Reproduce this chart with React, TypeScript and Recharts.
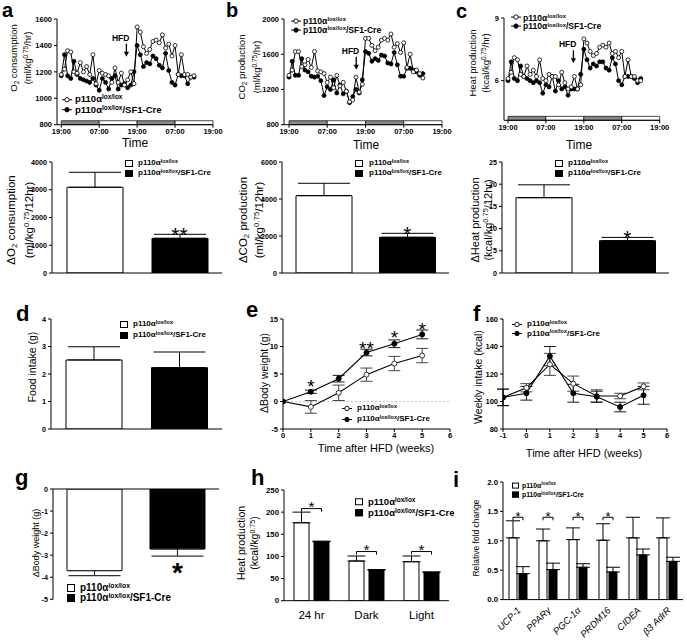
import React from "react";
import {
  Bar,
  BarChart,
  Cell,
  ErrorBar,
  LabelList,
  Line,
  LineChart,
  ReferenceArea,
  ReferenceDot,
  ReferenceLine,
  XAxis,
  YAxis,
} from "recharts";

const FONT = '"Liberation Sans", Arial, Helvetica, sans-serif';

// ---- a–c (top): hourly calorimetry, x = hours after 19:00 ----
const hours = [
  0, 1, 2, 3, 4, 5, 6, 7, 8, 9, 10, 11, 12, 13, 14, 15, 16, 17, 18, 19, 20, 21,
  22, 23, 24, 25, 26, 27, 28, 29, 30, 31, 32, 33, 34, 35, 36, 37, 38, 39, 40, 41, 42,
];
const clockTicks = [0, 12, 24, 36, 48];
const clockLabels = ["19:00", "07:00", "19:00", "07:00", "19:00"];
const lightDark = [
  { from: 0, to: 12, dark: true },
  { from: 12, to: 24, dark: false },
  { from: 24, to: 36, dark: true },
  { from: 36, to: 48, dark: false },
];

const o2Lox = [
  1180, 1220, 1360, 1350, 1200, 1190, 1270, 1200, 1240, 1180, 1330, 1110, 1210, 1190, 1180,
  1170, 1120, 1230, 1120, 1190, 1100, 1140, 1200, 1110, 1540, 1500, 1390, 1340, 1370, 1430,
  1440, 1420, 1480, 1380, 1410, 1320, 1400, 1180, 1330, 1180, 1180, 1160, 1170,
];
const o2Cre = [
  1170, 1330, 1170, 1150, 1280, 1180, 1150, 1140, 1130, 1120, 1150, 1100, 1060, 1150, 1120,
  1070, 1150, 1170, 1070, 1100, 1110, 1080, 1100, 1200, 1400, 1330, 1240, 1270, 1260, 1320,
  1300, 1250, 1230, 1340, 1210, 1120, 1100, 1180, 1170, 1170, 1110, 1160, 1160,
];
const co2Lox = [
  1360, 1420, 1630, 1630, 1460, 1480, 1540, 1450, 1630, 1410, 1400, 1380, 1280, 1340, 1220,
  1360, 1240, 1280, 1180, 1060, 1080, 1340, 1170, 1260, 1780, 1780, 1700, 1640, 1680, 1760,
  1780, 1760, 1830, 1680, 1720, 1620, 1730, 1450, 1600, 1400, 1420, 1380, 1330,
];
const co2Cre = [
  1340, 1520, 1360, 1360, 1550, 1420, 1400, 1350, 1340, 1350, 1300, 1130, 1230, 1200, 1310,
  1160, 1250, 1150, 1180, 1050, 1120, 1200, 1160, 1310, 1630, 1610, 1520, 1550, 1530, 1590,
  1580, 1500, 1490, 1620, 1480, 1350, 1350, 1440, 1440, 1420, 1400, 1360, 1380,
];
const heatLox = [
  6.1, 6.4, 7.1, 7.0, 6.3, 6.2, 6.7, 6.3, 6.5, 6.2, 7.0, 6.1, 6.0, 6.3, 6.2, 6.2, 5.8, 6.4,
  5.9, 5.6, 5.7, 6.2, 5.6, 5.8, 8.0, 7.8, 7.4, 7.2, 7.3, 7.6, 7.7, 7.6, 7.8, 7.3, 7.4, 7.1,
  7.4, 6.2, 7.0, 6.2, 6.2, 6.0, 6.0,
];
const heatCre = [
  6.0, 6.9, 6.1, 6.0, 6.7, 6.2, 6.1, 6.0, 5.9, 6.0, 5.9, 5.4, 5.8, 5.7, 6.2, 5.5, 6.0, 5.6,
  5.7, 5.3, 5.6, 5.6, 5.6, 6.3, 7.5, 7.0, 6.6, 6.8, 6.7, 6.9, 6.9, 6.6, 6.5, 7.1, 6.8, 6.0,
  5.8, 6.2, 6.2, 6.2, 6.1, 5.9, 6.1,
];

// ---- a–c (bottom), d, g: two genotypes ----
const genotypes = ["p110α lox/lox", "p110α lox/lox/SF1-Cre"];
const dO2Mean = [3090, 1250];
const dO2Sem = [540, 145];
const dCO2Mean = [4180, 1930];
const dCO2Sem = [670, 215];
const dHeatMean = [16.96, 7.27];
const dHeatSem = [2.9, 0.75];
const foodMean = [2.51, 2.23];
const foodSem = [0.48, 0.57];
const chowBwMean = [-3.7, -2.72];
const chowBwSem = [0.23, 0.32];

// ---- e: body weight gain on HFD ----
const weeksE = [0, 1, 2, 3, 4, 5];
const bwLox = [0, -0.98, 1.58, 4.88, 6.9, 8.35];
const bwLoxSem = [0, 1.15, 1.4, 1.2, 1.3, 1.3];
const bwCre = [0, 1.77, 4.15, 8.9, 10.5, 12.2];
const bwCreSem = [0, 0.3, 0.6, 0.6, 0.7, 0.8];
const bwStars = [
  { w: 1, at: 3.5, mark: "*" },
  { w: 3, at: 10.5, mark: "**" },
  { w: 4, at: 12.4, mark: "*" },
  { w: 5, at: 13.8, mark: "*" },
];

// ---- f: weekly intake ----
const weeksF = [-1, 0, 1, 2, 3, 4, 5];
const kcalLox = [103, 110, 127, 113, 104, 104, 111];
const kcalLoxSem = [6, 3, 8, 5.5, 4.5, 2, 2.5];
const kcalCre = [103, 106, 133, 106, 103.5, 96, 104.5];
const kcalCreSem = [6, 5, 7, 6.5, 4, 3.5, 6.5];

// ---- h: heat production by period ----
const periods = ["24 hr", "Dark", "Light"];
const periodLox = [176, 89.6, 88];
const periodLoxSem = [24, 11.3, 13];
const periodCre = [133, 69.3, 64];
const periodCreSem = [1.5, 1, 1];
const periodBracket = [208, 111, 111];

// ---- i: BAT thermogenic genes ----
const genes = ["UCP-1", "PPARγ", "PGC-1α", "PRDM16", "CIDEA", "β3 AdrR"];
const foldLox = [1.05, 1.0, 1.02, 1.01, 1.05, 1.05];
const foldLoxSem = [0.29, 0.2, 0.2, 0.28, 0.35, 0.34];
const foldCre = [0.44, 0.51, 0.55, 0.47, 0.76, 0.65];
const foldCreSem = [0.12, 0.11, 0.06, 0.08, 0.1, 0.07];
const foldBracket = [1.4, 1.4, 1.4, 1.4, null, null];

const ax = { stroke: "#000", strokeWidth: 1 };
const tk = (size: number) => ({ fontSize: size, fontWeight: 700, fill: "#000", fontFamily: FONT });

// chart box so that the plot area lands on p (page pixels)
function place(p, yw, xh, xTop = false, right = 6, bottom = 0) {
  const top = 6;
  return {
    style: { position: "absolute" as const, left: p.x0 - yw, top: p.y0 - top - (xTop ? xh : 0) },
    width: p.x1 - p.x0 + yw + right,
    height: p.y1 - p.y0 + top + xh + bottom,
    margin: { top, right, left: 0, bottom },
  };
}

const starAt = (mark: string, size: number, dy: number, weight = 400) => (p) =>
  (
    <text x={p.cx} y={p.cy + dy} textAnchor="middle" fontSize={size} fontWeight={weight} fontFamily={FONT} fill="#000">
      {mark}
    </text>
  );

const hfdArrow = (p) => (
  <g>
    <line x1={p.cx} y1={p.cy - 13} x2={p.cx} y2={p.cy - 4} stroke="#000" strokeWidth={1.3} />
    <path d={`M${p.cx - 2.6},${p.cy - 5} L${p.cx},${p.cy} L${p.cx + 2.6},${p.cy - 5} Z`} fill="#000" />
    <text x={p.cx + 3} y={p.cy - 16} textAnchor="end" fontSize={8.5} fontWeight={700} fontFamily={FONT}>
      HFD
    </text>
  </g>
);

function Txt({ x, y, size = 12, weight = 400, rotate = false, lh = 0, children }) {
  return (
    <div
      style={{
        position: "absolute",
        left: x,
        top: y,
        fontSize: size,
        fontWeight: weight,
        lineHeight: lh ? `${lh}px` : 1.1,
        whiteSpace: "nowrap",
        textAlign: "center",
        transform: rotate ? "translate(-50%,-50%) rotate(-90deg)" : "translate(-50%,-50%)",
      }}
    >
      {children}
    </div>
  );
}

const Sub = ({ children }) => (
  <span style={{ fontSize: "0.68em", position: "relative", top: "0.3em" }}>{children}</span>
);
const Sup = ({ children }) => (
  <span style={{ fontSize: "0.68em", position: "relative", top: "-0.45em" }}>{children}</span>
);

// y = baseline of the panel letter
function Letter({ x, y, ch, size = 22 }) {
  return (
    <div
      style={{
        position: "absolute",
        left: x,
        top: y - size * 0.905,
        fontSize: size,
        fontWeight: 700,
        lineHeight: `${size * 1.117}px`,
      }}
    >
      {ch}
    </div>
  );
}

function Geno({ cre }) {
  return (
    <span>
      p110α<Sup>lox/lox</Sup>
      {cre ? "/SF1-Cre" : ""}
    </span>
  );
}

function BarKey({ x, y, gap, size, textX, box = [8, 7] }) {
  return (
    <>
      {[false, true].map((cre, i) => (
        <div
          key={i}
          style={{
            position: "absolute",
            left: x,
            top: y + i * gap,
            transform: "translateY(-50%)",
            display: "flex",
            alignItems: "center",
            fontSize: size,
            fontWeight: 700,
            whiteSpace: "nowrap",
            lineHeight: 1,
          }}
        >
          <span
            style={{
              display: "inline-block",
              width: box[0],
              height: box[1],
              boxSizing: "border-box",
              border: "1px solid #000",
              background: cre ? "#000" : "#fff",
              marginRight: textX - x - box[0],
            }}
          />
          <Geno cre={cre} />
        </div>
      ))}
    </>
  );
}

function LineKey({ x, y, gap, size, textX, len = 10 }) {
  return (
    <>
      {[false, true].map((cre, i) => (
        <div
          key={i}
          style={{
            position: "absolute",
            left: x,
            top: y + i * gap,
            transform: "translateY(-50%)",
            display: "flex",
            alignItems: "center",
            fontSize: size,
            fontWeight: 700,
            whiteSpace: "nowrap",
            lineHeight: 1,
          }}
        >
          <svg width={len} height={7} style={{ marginRight: textX - x - len }}>
            <line x1={0} y1={3.5} x2={len} y2={3.5} stroke="#000" strokeWidth={1} />
            <circle cx={len / 2} cy={3.5} r={2.2} fill={cre ? "#000" : "#fff"} stroke="#000" strokeWidth={0.9} />
          </svg>
          <Geno cre={cre} />
        </div>
      ))}
    </>
  );
}

function TimePanel({ plot, xMin, yDomain, yTicks, stripe, lox, cre, hfd }) {
  const data = hours.map((h, i) => ({ h, lox: lox[i], cre: cre[i] }));
  const f = place(plot, 30, 16, false, 16);
  return (
    <div style={f.style}>
      <LineChart width={f.width} height={f.height} margin={f.margin} data={data}>
        <XAxis
          type="number"
          dataKey="h"
          domain={[xMin, 48]}
          ticks={clockTicks}
          interval={0}
          tickFormatter={(v) => clockLabels[clockTicks.indexOf(v)]}
          height={16}
          tick={tk(7.5)}
          tickSize={3}
          tickMargin={1}
          axisLine={ax}
          tickLine={ax}
          allowDataOverflow
        />
        <YAxis
          type="number"
          domain={yDomain}
          ticks={yTicks}
          interval={0}
          width={30}
          tick={tk(7.5)}
          tickSize={3}
          tickMargin={2}
          axisLine={ax}
          tickLine={ax}
          allowDataOverflow
        />
        {lightDark.map((s) => (
          <ReferenceArea
            key={s.from}
            x1={s.from}
            x2={s.to}
            y1={yDomain[0]}
            y2={yDomain[0] + stripe}
            fill={s.dark ? "#8a8a8a" : "#fff"}
            fillOpacity={1}
            stroke="#000"
            strokeWidth={0.7}
          />
        ))}
        <Line
          type="linear"
          dataKey="cre"
          stroke="#000"
          strokeWidth={1}
          dot={{ r: 2, fill: "#000", stroke: "#000", strokeWidth: 0.8 }}
          isAnimationActive={false}
        />
        <Line
          type="linear"
          dataKey="lox"
          stroke="#000"
          strokeWidth={1}
          dot={{ r: 2, fill: "#fff", stroke: "#000", strokeWidth: 0.8 }}
          isAnimationActive={false}
        />
        <ReferenceDot x={hfd[0]} y={hfd[1]} r={0} shape={hfdArrow} ifOverflow="visible" />
      </LineChart>
    </div>
  );
}

function GenoBars({ plot, domain, ticks, mean, sem, star = "" }) {
  const data = genotypes.map((g, i) => ({ g, v: mean[i], e: [0, sem[i]] }));
  const f = place(plot, 30, 6);
  return (
    <div style={f.style}>
      <BarChart width={f.width} height={f.height} margin={f.margin} data={data}>
        <XAxis dataKey="g" tick={false} tickSize={3} axisLine={ax} tickLine={ax} height={6} interval={0} />
        <YAxis
          type="number"
          domain={domain}
          ticks={ticks}
          interval={0}
          width={30}
          tick={tk(7.2)}
          tickSize={3}
          tickMargin={2}
          axisLine={ax}
          tickLine={ax}
          allowDataOverflow
        />
        <Bar dataKey="v" barSize={56} isAnimationActive={false}>
          {data.map((d, i) => (
            <Cell key={d.g} fill={i ? "#000" : "#fff"} stroke="#000" strokeWidth={1} />
          ))}
          <ErrorBar dataKey="e" width={26} stroke="#000" strokeWidth={1} direction="y" />
        </Bar>
        {star && (
          <ReferenceDot x={genotypes[1]} y={mean[1] + sem[1]} r={0} shape={starAt(star, 21, 7.6)} ifOverflow="visible" />
        )}
      </BarChart>
    </div>
  );
}

function WeekLines({ plot, xDomain, xTicks, yDomain, yTicks, weeks, lox, loxSem, cre, creSem, zero = false, stars = [] }) {
  const data = weeks.map((w, i) => ({ w, lox: lox[i], loxE: loxSem[i], cre: cre[i], creE: creSem[i] }));
  const f = place(plot, 28, 14, false, 8);
  return (
    <div style={f.style}>
      <LineChart width={f.width} height={f.height} margin={f.margin} data={data}>
        <XAxis
          type="number"
          dataKey="w"
          domain={xDomain}
          ticks={xTicks}
          interval={0}
          height={14}
          tick={tk(7.5)}
          tickSize={3}
          tickMargin={1}
          axisLine={ax}
          tickLine={ax}
          allowDataOverflow
        />
        <YAxis
          type="number"
          domain={yDomain}
          ticks={yTicks}
          interval={0}
          width={28}
          tick={tk(7.5)}
          tickSize={3}
          tickMargin={2}
          axisLine={ax}
          tickLine={ax}
          allowDataOverflow
        />
        {zero && <ReferenceLine y={0} stroke="#c4c4c4" strokeDasharray="2 2" />}
        <Line
          type="linear"
          dataKey="lox"
          stroke="#000"
          strokeWidth={1.1}
          dot={{ r: 2.5, fill: "#fff", stroke: "#333", strokeWidth: 1 }}
          isAnimationActive={false}
        >
          <ErrorBar dataKey="loxE" width={6} stroke="#333" strokeWidth={0.9} direction="y" />
        </Line>
        <Line
          type="linear"
          dataKey="cre"
          stroke="#000"
          strokeWidth={1.1}
          dot={{ r: 2.5, fill: "#000", stroke: "#000", strokeWidth: 1 }}
          isAnimationActive={false}
        >
          <ErrorBar dataKey="creE" width={6} stroke="#000" strokeWidth={0.9} direction="y" />
        </Line>
        {stars.map((s) => (
          <ReferenceDot key={s.w} x={s.w} y={s.at} r={0} shape={starAt(s.mark, 19, 10.8)} ifOverflow="visible" />
        ))}
      </LineChart>
    </div>
  );
}

// bracket + star over a white/black pair, drawn from the white bar's geometry
const pairBracket = (levels, means, gap: number, size: number) => (props) => {
  const vb = props.viewBox || props;
  const i = props.index;
  if (levels[i] == null) return null;
  const ppu = vb.height / means[i];
  const yb = vb.y + vb.height - levels[i] * ppu;
  const xa = vb.x + vb.width / 2;
  const xb = xa + vb.width + gap;
  return (
    <g>
      <path d={`M${xa},${yb + 3} V${yb} H${xb} V${yb + 3}`} fill="none" stroke="#000" strokeWidth={1} />
      <text x={(xa + xb) / 2} y={yb + 3.5} textAnchor="middle" fontSize={size} fontFamily={FONT} fill="#000">
        *
      </text>
    </g>
  );
};

const GeneTick = (p) => (
  <g transform={`translate(${p.x + 1},${p.y + 1}) rotate(-45)`}>
    <text x={0} y={0} dy="0.35em" textAnchor="end" fontSize={9.5} fontStyle="italic" fontFamily={FONT} fill="#000">
      {p.payload.value}
    </text>
  </g>
);

function PanelG() {
  const plot = { x0: 53, x1: 219, y0: 489, y1: 599.3 };
  const data = genotypes.map((g, i) => ({ g, v: chowBwMean[i], e: [chowBwSem[i], 0] }));
  const f = place(plot, 30, 6, true, 6, 8);
  return (
    <div style={f.style}>
      <BarChart width={f.width} height={f.height} margin={f.margin} data={data}>
        <XAxis dataKey="g" orientation="top" tick={false} tickSize={3} axisLine={ax} tickLine={ax} height={6} interval={0} />
        <YAxis
          type="number"
          domain={[-5, 0]}
          ticks={[-5, -4, -3, -2, -1, 0]}
          interval={0}
          width={30}
          tick={tk(7.2)}
          tickSize={3}
          tickMargin={2}
          axisLine={ax}
          tickLine={ax}
          allowDataOverflow
        />
        <Bar dataKey="v" barSize={55} isAnimationActive={false}>
          {data.map((d, i) => (
            <Cell key={d.g} fill={i ? "#000" : "#fff"} stroke="#000" strokeWidth={1} />
          ))}
          <ErrorBar dataKey="e" width={26} stroke="#333" strokeWidth={1.2} direction="y" />
        </Bar>
        <ReferenceDot
          x={genotypes[1]}
          y={chowBwMean[1] - chowBwSem[1]}
          r={0}
          shape={starAt("*", 28, 25.5, 700)}
          ifOverflow="visible"
        />
      </BarChart>
    </div>
  );
}

function PanelH() {
  const plot = { x0: 284, x1: 449, y0: 490, y1: 600.7 };
  const data = periods.map((p, i) => ({
    p,
    lox: periodLox[i],
    loxE: [0, periodLoxSem[i]],
    cre: periodCre[i],
    creE: [0, periodCreSem[i]],
  }));
  const f = place(plot, 30, 20);
  return (
    <div style={f.style}>
      <BarChart width={f.width} height={f.height} margin={f.margin} data={data} barGap={5}>
        <XAxis
          dataKey="p"
          interval={0}
          height={20}
          tick={{ fontSize: 11.5, fill: "#000", fontFamily: FONT }}
          tickLine={false}
          tickMargin={4}
          axisLine={ax}
        />
        <YAxis
          type="number"
          domain={[0, 250]}
          ticks={[0, 50, 100, 150, 200, 250]}
          interval={0}
          width={30}
          tick={tk(7.8)}
          tickSize={3}
          tickMargin={2}
          axisLine={ax}
          tickLine={ax}
          allowDataOverflow
        />
        <Bar dataKey="lox" barSize={15} fill="#fff" stroke="#000" strokeWidth={1} isAnimationActive={false}>
          <ErrorBar dataKey="loxE" width={9} stroke="#000" strokeWidth={1} direction="y" />
          <LabelList dataKey="lox" content={pairBracket(periodBracket, periodLox, 5, 15.5)} />
        </Bar>
        <Bar dataKey="cre" barSize={15} fill="#000" stroke="#000" strokeWidth={1} isAnimationActive={false}>
          <ErrorBar dataKey="creE" width={9} stroke="#000" strokeWidth={1} direction="y" />
        </Bar>
      </BarChart>
    </div>
  );
}

function PanelI() {
  const plot = { x0: 503, x1: 683, y0: 481.7, y1: 599.3 };
  const data = genes.map((g, i) => ({
    g,
    lox: foldLox[i],
    loxE: [0, foldLoxSem[i]],
    cre: foldCre[i],
    creE: [0, foldCreSem[i]],
  }));
  const f = place(plot, 26, 44, false, 3);
  return (
    <div style={f.style}>
      <BarChart width={f.width} height={f.height} margin={f.margin} data={data} barGap={2}>
        <XAxis dataKey="g" interval={0} height={44} tick={GeneTick} tickLine={false} tickMargin={2} axisLine={ax} />
        <YAxis
          type="number"
          domain={[0, 2]}
          ticks={[0, 0.5, 1, 1.5, 2]}
          tickFormatter={(v) => v.toFixed(1)}
          interval={0}
          width={26}
          tick={tk(7.8)}
          tickSize={3}
          tickMargin={2}
          axisLine={ax}
          tickLine={ax}
          allowDataOverflow
        />
        <Bar dataKey="lox" barSize={8} fill="#fff" stroke="#000" strokeWidth={1} isAnimationActive={false}>
          <ErrorBar dataKey="loxE" width={7} stroke="#000" strokeWidth={1} direction="y" />
          <LabelList dataKey="lox" content={pairBracket(foldBracket, foldLox, 2, 13)} />
        </Bar>
        <Bar dataKey="cre" barSize={8} fill="#000" stroke="#000" strokeWidth={1} isAnimationActive={false}>
          <ErrorBar dataKey="creE" width={7} stroke="#000" strokeWidth={1} direction="y" />
        </Bar>
      </BarChart>
    </div>
  );
}

export default function App() {
  return (
    <div
      style={{
        position: "absolute",
        left: 0,
        top: 0,
        width: 687,
        height: 640,
        overflow: "hidden",
        background: "#fff",
        color: "#000",
        fontFamily: FONT,
      }}
    >
      {/* top row: calorimetry time courses */}
      <TimePanel
        plot={{ x0: 57, x1: 213, y0: 19.3, y1: 125 }}
        xMin={-1.36}
        yDomain={[800, 1600]}
        yTicks={[800, 1000, 1200, 1400, 1600]}
        stripe={30}
        lox={o2Lox}
        cre={o2Cre}
        hfd={[20.6, 1315]}
      />
      <TimePanel
        plot={{ x0: 284.3, x1: 442.3, y0: 19.3, y1: 125 }}
        xMin={-1.57}
        yDomain={[800, 2000]}
        yTicks={[800, 1200, 1600, 2000]}
        stripe={45}
        lox={co2Lox}
        cre={co2Cre}
        hfd={[21.1, 1424]}
      />
      <TimePanel
        plot={{ x0: 504.3, x1: 660, y0: 17.7, y1: 120 }}
        xMin={-1.27}
        yDomain={[4.1, 9]}
        yTicks={[6, 9]}
        stripe={0.19}
        lox={heatLox}
        cre={heatCre}
        hfd={[20.7, 6.83]}
      />
      <LineKey x={62} y={99.3} gap={10.7} size={9.5} textX={75} />
      <LineKey x={291} y={21} gap={9} size={8.6} textX={303} />
      <LineKey x={511} y={17.5} gap={8.8} size={8.6} textX={523} />
      <Txt x={20.5} y={58} size={9.5} lh={13} rotate>
        O<Sub>2</Sub> consumption
        <br />
        (ml/kg<Sup>0.75</Sup>/hr)
      </Txt>
      <Txt x={249.5} y={67} size={9.5} lh={14} rotate>
        CO<Sub>2</Sub> production
        <br />
        (ml/kg<Sup>0.75</Sup>/hr)
      </Txt>
      <Txt x={478.5} y={63} size={9.5} lh={13} rotate>
        Heat production
        <br />
        (kcal/kg<Sup>0.75</Sup>/hr)
      </Txt>
      <Txt x={135} y={144} size={12}>Time</Txt>
      <Txt x={366} y={146} size={12}>Time</Txt>
      <Txt x={579} y={146} size={12}>Time</Txt>

      {/* second row: 12 h deltas */}
      <GenoBars plot={{ x0: 52, x1: 222, y0: 162, y1: 273 }} domain={[0, 4000]} ticks={[0, 1000, 2000, 3000, 4000]} mean={dO2Mean} sem={dO2Sem} star="**" />
      <GenoBars plot={{ x0: 282, x1: 449, y0: 162, y1: 273 }} domain={[0, 6000]} ticks={[0, 2000, 4000, 6000]} mean={dCO2Mean} sem={dCO2Sem} star="*" />
      <GenoBars plot={{ x0: 502, x1: 669, y0: 162, y1: 273 }} domain={[0, 25]} ticks={[0, 5, 10, 15, 20, 25]} mean={dHeatMean} sem={dHeatSem} star="*" />
      <BarKey x={125} y={163} gap={10} size={8} textX={138} />
      <BarKey x={355} y={163} gap={10} size={8} textX={369} />
      <BarKey x={555} y={163} gap={10} size={8} textX={568} />
      <Txt x={21} y={220} size={11.5} lh={16} rotate>
        ΔO<Sub>2</Sub> consumption
        <br />
        (ml/kg<Sup>0.75</Sup>/12hr)
      </Txt>
      <Txt x={252} y={220} size={11.5} lh={14} rotate>
        ΔCO<Sub>2</Sub> production
        <br />
        (ml/kg<Sup>0.75</Sup>/12hr)
      </Txt>
      <Txt x={482} y={220} size={11} lh={12.5} rotate>
        ΔHeat production
        <br />
        (kcal/kg<Sup>0.75</Sup>/12hr)
      </Txt>

      {/* third row */}
      <GenoBars plot={{ x0: 51, x1: 222, y0: 319, y1: 429 }} domain={[0, 4]} ticks={[0, 1, 2, 3, 4]} mean={foodMean} sem={foodSem} />
      <BarKey x={120} y={324} gap={11} size={8} textX={133} />
      <Txt x={33} y={367} size={10.5} rotate>Food intake (g)</Txt>

      <WeekLines
        plot={{ x0: 283, x1: 450, y0: 319.3, y1: 429.3 }}
        xDomain={[0, 6]}
        xTicks={[0, 1, 2, 3, 4, 5, 6]}
        yDomain={[-5, 15]}
        yTicks={[-5, 0, 5, 10, 15]}
        weeks={weeksE}
        lox={bwLox}
        loxSem={bwLoxSem}
        cre={bwCre}
        creSem={bwCreSem}
        zero
        stars={bwStars}
      />
      <LineKey x={342} y={408} gap={11} size={8} textX={357} />
      <Txt x={265} y={373} size={10.5} rotate>ΔBody weight (g)</Txt>
      <Txt x={376} y={448} size={11}>Time after HFD (weeks)</Txt>

      <WeekLines
        plot={{ x0: 503, x1: 667, y0: 319.3, y1: 429.3 }}
        xDomain={[-1, 6]}
        xTicks={[-1, 0, 1, 2, 3, 4, 5, 6]}
        yDomain={[80, 160]}
        yTicks={[80, 100, 120, 140, 160]}
        weeks={weeksF}
        lox={kcalLox}
        loxSem={kcalLoxSem}
        cre={kcalCre}
        creSem={kcalCreSem}
      />
      <LineKey x={512} y={324} gap={9.5} size={8} textX={527} />
      <Txt x={479} y={377} size={10.5} rotate>Weekly intake (kcal)</Txt>
      <Txt x={584} y={453} size={11}>Time after HFD (weeks)</Txt>

      {/* bottom row */}
      <PanelG />
      <BarKey x={67} y={588} gap={10} size={10} textX={80} box={[8, 8]} />
      <Txt x={37} y={543} size={9} rotate>ΔBody weight (g)</Txt>

      <PanelH />
      <BarKey x={355} y={502} gap={11} size={9.5} textX={368} />
      <Txt x={248.5} y={543} size={10.5} lh={13} rotate>
        Heat production
        <br />
        (kcal/kg<Sup>0.75</Sup>)
      </Txt>

      <PanelI />
      <BarKey x={512} y={485.5} gap={9.5} size={6.8} textX={522} box={[7, 6]} />
      <Txt x={477} y={538} size={8.5} rotate>Relative fold change</Txt>

      <Letter x={2} y={17.5} ch="a" size={20} />
      <Letter x={226} y={17.5} ch="b" size={20} />
      <Letter x={456} y={18.5} ch="c" size={20} />
      <Letter x={16} y={322} ch="d" />
      <Letter x={246} y={318} ch="e" />
      <Letter x={473} y={322} ch="f" />
      <Letter x={15} y={486} ch="g" />
      <Letter x={251} y={486} ch="h" />
      <Letter x={453} y={488} ch="i" />
    </div>
  );
}
